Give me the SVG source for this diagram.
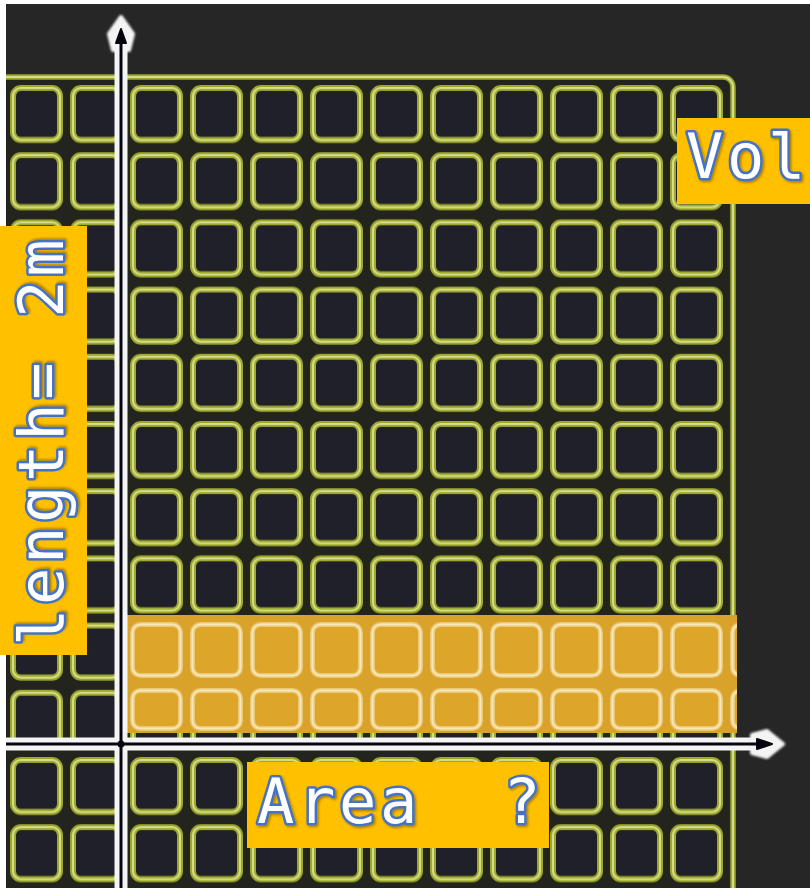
<svg xmlns="http://www.w3.org/2000/svg" width="810" height="888" viewBox="0 0 810 888">
<defs>
<style>
.lbl{fill:#FFC000}
.txt{font-family:"DejaVu Sans Mono","Liberation Mono",monospace;font-size:62px;letter-spacing:3.7px;fill:#ffffff;stroke:#4472C4;stroke-width:5px;paint-order:stroke;stroke-linejoin:round;filter:url(#sh)}
.cell{fill:#20202a;stroke:#9CA82C;stroke-width:6}
.cellc{fill:none;stroke:#D6DC8A;stroke-width:2}
.hc{fill:#DDA62B;stroke:#EBC874;stroke-width:5}
.hcc{fill:none;stroke:#F7E6B8;stroke-width:2}
.glow{stroke:#ffffff;stroke-opacity:0.3;stroke-width:20;fill:none}
.ax{stroke:#f4f4f4;stroke-width:13;fill:none}
.core{stroke:#050510;stroke-width:3;fill:none}
</style>
<filter id="sh" x="-10%" y="-10%" width="130%" height="130%">
<feDropShadow dx="1.5" dy="1.5" stdDeviation="1.2" flood-color="#000" flood-opacity="0.35"/>
</filter>
<filter id="blur" x="-20%" y="-20%" width="140%" height="140%">
<feGaussianBlur stdDeviation="1.2"/>
</filter>
<pattern id="grid" patternUnits="userSpaceOnUse" x="10" y="85" width="60" height="67.2">
<rect class="cell" x="3" y="3" width="47" height="52" rx="8"/>
<rect class="cellc" x="3" y="3" width="47" height="52" rx="8"/>
</pattern>
<pattern id="hgrid" patternUnits="userSpaceOnUse" x="10" y="615" width="60" height="118">
<rect class="hc" x="2.5" y="9.5" width="48" height="51" rx="8"/>
<rect class="hcc" x="2.5" y="9.5" width="48" height="51" rx="8"/>
<rect class="hc" x="2.5" y="75.5" width="48" height="38" rx="8"/>
<rect class="hcc" x="2.5" y="75.5" width="48" height="38" rx="8"/>
</pattern>
</defs>

<g id="background">
<rect x="0" y="0" width="810" height="888" fill="#ffffff"/>
<rect x="6" y="4" width="804" height="884" fill="#262626"/>
</g>

<g id="grid-area">
<rect x="6" y="80" width="723" height="808" fill="#23241e"/>
<rect x="6" y="80" width="723" height="808" fill="url(#grid)"/>
<path d="M6 77 H723 A10 10 0 0 1 733 87 V888" fill="none" stroke="#9CA82C" stroke-width="5.5"/>
<path d="M6 77 H723 A10 10 0 0 1 733 87 V888" fill="none" stroke="#D6DC8A" stroke-width="2"/>
</g>

<g id="highlight">
<rect x="127" y="615" width="610" height="118" fill="#D9A32B"/>
<rect x="127" y="615" width="610" height="118" fill="url(#hgrid)"/>
</g>

<g id="connectors">
<line class="glow" x1="6" y1="744" x2="760" y2="744" filter="url(#blur)"/>
<line class="glow" x1="121" y1="888" x2="121" y2="45" filter="url(#blur)"/>
<line class="ax" x1="6" y1="744" x2="762" y2="744"/>
<line class="ax" x1="121" y1="888" x2="121" y2="46"/>
<polygon points="121,17 133,34 129,50 113,50 109,34" fill="#f4f4f4" stroke="#f4f4f4" stroke-width="4" stroke-linejoin="round" filter="url(#blur)"/>
<polygon points="783,744 767,757 752,753 752,735 767,731" fill="#f4f4f4" stroke="#f4f4f4" stroke-width="4" stroke-linejoin="round" filter="url(#blur)"/>
<line class="core" x1="6" y1="744" x2="762" y2="744"/>
<line class="core" x1="121" y1="888" x2="121" y2="44"/>
<polygon points="121,29 126,43 116,43" fill="#050510" stroke="#050510" stroke-width="2" stroke-linejoin="round"/>
<polygon points="772,744 757,749 757,739" fill="#050510" stroke="#050510" stroke-width="2" stroke-linejoin="round"/>
<circle cx="121" cy="744" r="3.5" fill="#050510"/>
</g>

<g id="label-vol">
<rect class="lbl" x="677" y="118" width="133" height="86"/>
<text class="txt" x="686" y="178">Vol</text>
</g>

<g id="label-length">
<rect class="lbl" x="0" y="226" width="87" height="429"/>
<text class="txt" transform="translate(63,646) rotate(-90)" x="0" y="0" xml:space="preserve">length= 2m</text>
</g>

<g id="label-area">
<rect class="lbl" x="247" y="762" width="302" height="86"/>
<text class="txt" x="257" y="823" xml:space="preserve">Area  ?</text>
</g>
</svg>
